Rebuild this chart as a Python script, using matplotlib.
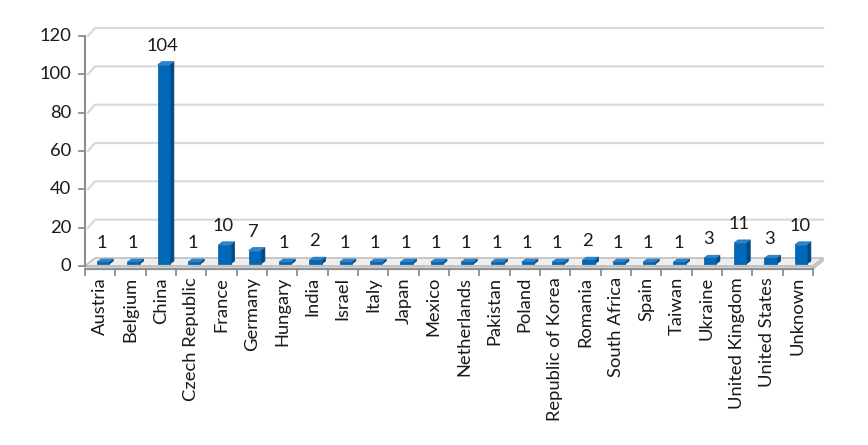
import numpy as np
import matplotlib.pyplot as plt
from matplotlib.patches import Polygon

# Datos del gráfico
paises = ['Austria', 'Belgium', 'China', 'Czech Republic', 'France', 'Germany',
          'Hungary', 'India', 'Israel', 'Italy', 'Japan', 'Mexico', 'Netherlands',
          'Pakistan', 'Poland', 'Republic of Korea', 'Romania', 'South Africa',
          'Spain', 'Taiwan', 'Ukraine', 'United Kingdom', 'United States', 'Unknown']
valores = [1, 1, 104, 1, 10, 7, 1, 2, 1, 1, 1, 1, 1, 1, 1, 1, 2, 1, 1, 1, 3, 11, 3, 10]
ticks_y = [0, 20, 40, 60, 80, 100, 120]

plt.rcParams['font.family'] = ['Lato', 'DejaVu Sans']
FS = 13.2

W, H = 868, 445
fig = plt.figure(figsize=(W / 100, H / 100), dpi=100)
ax = fig.add_axes([85 / W, (H - 266) / H, 728 / W, 230 / H])
ax.set_xlim(-0.5, len(paises) - 0.5)
ax.set_ylim(0, 120)
ax.axis('off')

# profundidad del "3D" en pixeles
DX, DY = 10, 8
BX, BY = 4, 3       # profundidad de cada barra
SX, SY = 3, 2       # desplazamiento de las barras hacia atrás

def px(x, y):
    return ax.transData.transform((x, y))

x0, x1 = -0.5, len(paises) - 0.5

# piso
p_fl = [px(x0, 0), px(x1, 0), px(x1, 0) + [DX, DY], px(x0, 0) + [DX, DY]]
fig.patches.append(Polygon(p_fl, closed=True, transform=None, facecolor='#eeeeee',
                           edgecolor='#bfbfbf', lw=1.2, zorder=1))
slab = [px(x0, 0), px(x1, 0), px(x1, 0) + [0, -3], px(x0, 0) + [0, -3]]
fig.patches.append(Polygon(slab, closed=True, transform=None, facecolor='#d9d9d9',
                           edgecolor='#bfbfbf', lw=1, zorder=1))
right = [px(x1, 0), px(x1, 0) + [DX, DY], px(x1, 0) + [DX, DY - 3], px(x1, 0) + [0, -3]]
fig.patches.append(Polygon(right, closed=True, transform=None, facecolor='#cfcfcf',
                           edgecolor='#bfbfbf', lw=1, zorder=1))

# líneas de la grilla (pared del fondo)
for t in ticks_y[1:]:
    a = px(x0, t) + [3, 0]
    b = px(x0, t) + [DX, DY]
    c = px(x1, t) + [DX, DY]
    fig.lines.append(plt.Line2D([a[0], b[0], c[0]], [a[1], b[1], c[1]], transform=None,
                                color='#d9d9d9', lw=1.6, zorder=0))

# eje vertical
a = px(x0, 0)
b = px(x0, 120)
fig.lines.append(plt.Line2D([a[0], b[0]], [a[1], b[1]], transform=None, color='#8c8c8c', lw=1.5, zorder=2))
for t in ticks_y:
    p = px(x0, t)
    fig.lines.append(plt.Line2D([p[0] - 6, p[0]], [p[1], p[1]], transform=None, color='#8c8c8c', lw=1.3, zorder=2))
    fig.text((p[0] - 14) / W, p[1] / H, str(t), ha='right', va='center', fontsize=FS, color='#1a1a1a')

# eje horizontal y marcas
a = px(x0, 0) + [0, -3]
b = px(x1, 0) + [0, -3]
fig.lines.append(plt.Line2D([a[0], b[0]], [a[1], b[1]], transform=None, color='#8c8c8c', lw=1.3, zorder=2))
for i in range(len(paises) + 1):
    p = px(i - 0.5, 0) + [0, -3]
    fig.lines.append(plt.Line2D([p[0], p[0]], [p[1], p[1] - 6], transform=None, color='#8c8c8c', lw=1.3, zorder=2))

# barras
bw = 0.4
for i, (nombre, v) in enumerate(zip(paises, valores)):
    bl = px(i - bw / 2, 0) + [SX, SY]
    br = px(i + bw / 2, 0) + [SX, SY]
    tl = px(i - bw / 2, v) + [SX, SY]
    tr = px(i + bw / 2, v) + [SX, SY]
    off = np.array([BX, BY])
    fig.patches.append(Polygon([br, tr, tr + off, br + off], closed=True, transform=None,
                               facecolor='#004b87', edgecolor='#003f73', lw=0.5, zorder=3))
    fig.patches.append(Polygon([tl, tr, tr + off, tl + off], closed=True, transform=None,
                               facecolor='#2a86d1', edgecolor='#1f6fb5', lw=0.5, zorder=3))
    fig.patches.append(Polygon([bl, br, tr, tl], closed=True, transform=None,
                               facecolor='#0068b8', edgecolor='#005a9e', lw=0.5, zorder=4))
    top = px(i, v)
    fig.text((top[0] + 2) / W, (top[1] + 13) / H, str(v), ha='center', va='bottom',
             fontsize=FS, color='#1a1a1a')
    p = px(i, 0)
    fig.text(p[0] / W, (p[1] - 11) / H, nombre, rotation=90, ha='center', va='top',
             fontsize=FS, color='#1a1a1a')

fig.savefig('out.png', dpi=100)
plt.close('all')
